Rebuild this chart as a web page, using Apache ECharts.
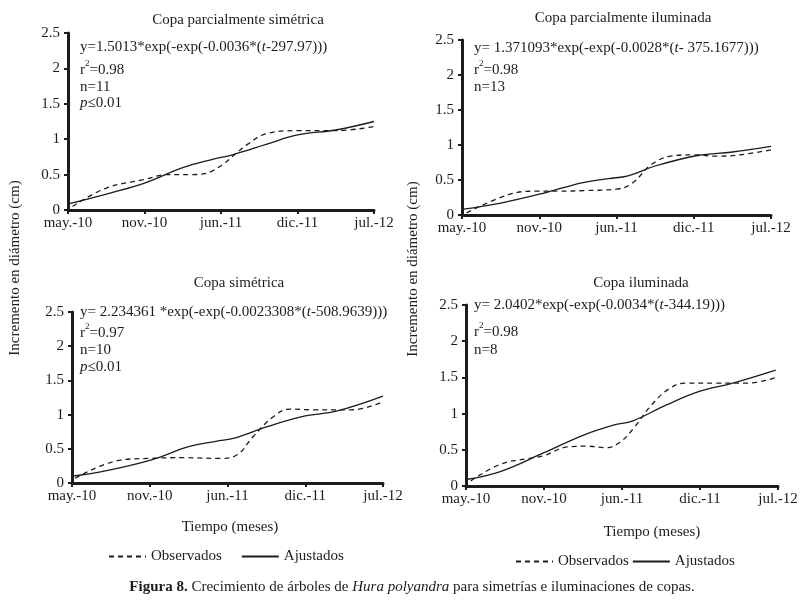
<!DOCTYPE html>
<html>
<head>
<meta charset="utf-8">
<script src="https://cdn.jsdelivr.net/npm/echarts@6/dist/echarts.min.js"></script>
<style>
    html, body {margin: 0; padding: 0; background: #fff;}
    #chart {width: 807px; height: 612px;}
</style>
</head>
<body>
<div id="chart"></div>
<script>
// tick labels of the time axis (evenly spaced in the figure)
let monthLabels = ['may.-10', 'nov.-10', 'jun.-11', 'dic.-11', 'jul.-12'];

// panel titles
let panelTitles = ['Copa parcialmente simétrica', 'Copa parcialmente iluminada', 'Copa simétrica', 'Copa iluminada'];

// observed (dashed) series, x in label units, y in cm
let obsX1 = [0.06, 0.5, 1.0, 1.3, 1.6, 1.9, 2.35, 2.6, 3.0, 3.5, 4.0];
let obsY1 = [0.05, 0.31, 0.43, 0.5, 0.5, 0.56, 0.93, 1.08, 1.12, 1.12, 1.18];
let obsX2 = [0.06, 0.6, 0.95, 1.25, 1.6, 2.0, 2.2, 2.45, 2.7, 3.0, 3.3, 3.6, 4.0];
let obsY2 = [0.03, 0.29, 0.34, 0.34, 0.35, 0.37, 0.45, 0.72, 0.84, 0.86, 0.84, 0.86, 0.93];
let obsX3 = [0.04, 0.6, 1.0, 1.45, 1.9, 2.12, 2.33, 2.59, 2.8, 3.1, 3.6, 4.0];
let obsY3 = [0.07, 0.33, 0.36, 0.37, 0.36, 0.41, 0.68, 0.97, 1.08, 1.07, 1.07, 1.19];
let obsX4 = [0.06, 0.44, 0.8, 1.0, 1.3, 1.55, 1.8, 1.98, 2.15, 2.38, 2.6, 2.8, 3.2, 3.6, 3.98];
let obsY4 = [0.07, 0.3, 0.38, 0.42, 0.54, 0.55, 0.53, 0.61, 0.8, 1.12, 1.34, 1.42, 1.42, 1.42, 1.5];

// fitted (solid) series
let fitX1 = [0, 0.55, 1.0, 1.5, 1.9, 2.15, 2.6, 3.0, 3.5, 4.0];
let fitY1 = [0.085, 0.24, 0.38, 0.6, 0.72, 0.78, 0.93, 1.06, 1.13, 1.25];
let fitX2 = [0, 0.5, 1.05, 1.55, 1.9, 2.15, 2.5, 3.05, 3.5, 4.0];
let fitY2 = [0.08, 0.17, 0.31, 0.46, 0.52, 0.56, 0.7, 0.85, 0.9, 0.98];
let fitX3 = [0, 0.4, 1.0, 1.5, 1.85, 2.1, 2.5, 3.0, 3.4, 4.0];
let fitY3 = [0.1, 0.17, 0.33, 0.53, 0.61, 0.66, 0.82, 0.98, 1.05, 1.27];
let fitX4 = [0, 0.44, 1.0, 1.5, 1.89, 2.14, 2.57, 3.0, 3.42, 3.97];
let fitY4 = [0.09, 0.2, 0.46, 0.7, 0.84, 0.9, 1.12, 1.31, 1.42, 1.6];

// model equations: [before t, after t]
let equations = [
    ['y=1.5013*exp(-exp(-0.0036*(', '-297.97)))'],
    ['y= 1.371093*exp(-exp(-0.0028*(', '- 375.1677)))'],
    ['y= 2.234361 *exp(-exp(-0.0023308*(', '-508.9639)))'],
    ['y= 2.0402*exp(-exp(-0.0034*(', '-344.19)))'],
];
let rSquared = ['0.98', '0.98', '0.97', '0.98'];
let nValues = ['11', '13', '10', '8'];
let showP = [true, false, true, false];

let main = document.getElementById('chart');
let chart = echarts.init(main, null, {renderer: 'canvas'});

let ink = '#1c1c1c';
let serif = 'Liberation Serif';

let zip = (xs, ys) => xs.map((x, i) => [x, ys[i]]);
let observed = [zip(obsX1, obsY1), zip(obsX2, obsY2), zip(obsX3, obsY3), zip(obsX4, obsY4)];
let fitted = [zip(fitX1, fitY1), zip(fitX2, fitY2), zip(fitX3, fitY3), zip(fitX4, fitY4)];

let grids = [
    {left: 68, top: 33, width: 306, height: 177},
    {left: 462, top: 40, width: 309, height: 175},
    {left: 72, top: 312, width: 311, height: 171},
    {left: 466, top: 305, width: 312, height: 181},
];
let titlePos = [[238, 20], [623, 18], [239, 283], [641, 283]];
let textLeft = [80, 474, 80, 474];
let textTops = [[47, 70, 87, 103], [48, 70, 87], [312, 333, 350, 367], [305, 332, 350]];

let richStyles = {
    a: {fontFamily: serif, fontSize: 15, color: ink, lineHeight: 22},
    i: {fontFamily: serif, fontSize: 15, color: ink, fontStyle: 'italic', lineHeight: 22},
    s: {fontFamily: serif, fontSize: 9, color: ink, verticalAlign: 'top', lineHeight: 9},
};

let graphicText = (x, y, text, extra) => ({
    type: 'text',
    x: x,
    y: y,
    silent: true,
    style: Object.assign({
        text: text,
        fontFamily: serif,
        fontSize: 15,
        fill: ink,
        textAlign: 'left',
        textVerticalAlign: 'middle',
    }, extra || {})
});

let elements = [];
grids.forEach((g, i) => {
    elements.push(graphicText(titlePos[i][0], titlePos[i][1], panelTitles[i], {textAlign: 'center'}));
    let tops = textTops[i];
    elements.push(graphicText(textLeft[i], tops[0],
        '{a|' + equations[i][0] + '}{i|t}{a|' + equations[i][1] + '}', {rich: richStyles}));
    elements.push(graphicText(textLeft[i], tops[1],
        '{a|r}{s|2}{a|=' + rSquared[i] + '}', {rich: richStyles}));
    elements.push(graphicText(textLeft[i], tops[2], 'n=' + nValues[i]));
    if (showP[i]) {
        elements.push(graphicText(textLeft[i], tops[3], '{i|p}{a|≤0.01}', {rich: richStyles}));
    }
});

// shared axis names
elements.push(Object.assign(graphicText(15, 268, 'Incremento en diámetro (cm)', {textAlign: 'center'}), {rotation: Math.PI / 2}));
elements.push(Object.assign(graphicText(413, 269, 'Incremento en diámetro (cm)', {textAlign: 'center'}), {rotation: Math.PI / 2}));
elements.push(graphicText(230, 527, 'Tiempo (meses)', {textAlign: 'center'}));
elements.push(graphicText(652, 532, 'Tiempo (meses)', {textAlign: 'center'}));

// figure caption
elements.push(graphicText(412, 587,
    '{b|Figura 8.}{n| Crecimiento de árboles de }{i|Hura polyandra}{n| para simetrías e iluminaciones de copas.}', {
        textAlign: 'center',
        rich: {
            b: {fontFamily: serif, fontSize: 15, color: ink, fontWeight: 'bold'},
            n: {fontFamily: serif, fontSize: 15, color: ink},
            i: {fontFamily: serif, fontSize: 15, color: ink, fontStyle: 'italic'},
        }
    }));

let legendFor = (left, top, gap) => ({
    left: left,
    top: top,
    itemWidth: 37,
    itemHeight: 12,
    itemGap: gap,
    selectedMode: false,
    data: ['Observados', 'Ajustados'],
    itemStyle: {opacity: 0, borderWidth: 0},
    textStyle: {fontFamily: serif, fontSize: 15, color: ink},
});

let setOption = () => {
    return {
        animation: false,
        backgroundColor: '#fff',
        grid: grids,
        xAxis: grids.map((g, i) => ({
            gridIndex: i,
            type: 'value',
            min: 0,
            max: 4,
            interval: 1,
            axisLine: {show: true, onZero: false, lineStyle: {color: ink, width: 3}},
            axisTick: {show: true, length: 4, lineStyle: {color: ink, width: 2}},
            axisLabel: {
                formatter: (v) => monthLabels[v],
                margin: 6,
                color: ink,
                fontFamily: serif,
                fontSize: 15,
            },
            splitLine: {show: false},
        })),
        yAxis: grids.map((g, i) => ({
            gridIndex: i,
            type: 'value',
            min: 0,
            max: 2.5,
            interval: 0.5,
            axisLine: {show: true, lineStyle: {color: ink, width: 3}},
            axisTick: {show: true, length: 4, lineStyle: {color: ink, width: 2}},
            axisLabel: {
                margin: 8,
                color: ink,
                fontFamily: serif,
                fontSize: 15,
            },
            splitLine: {show: false},
        })),
        legend: [legendFor(103, 544, 19), legendFor(510, 549, 3)],
        series: [
            ...observed.map((d, i) => ({
                type: 'line',
                name: 'Observados',
                xAxisIndex: i,
                yAxisIndex: i,
                data: d,
                smooth: 0.4,
                symbol: 'none',
                color: ink,
                lineStyle: {color: ink, width: 1.3, type: [5, 4]},
            })),
            ...fitted.map((d, i) => ({
                type: 'line',
                name: 'Ajustados',
                xAxisIndex: i,
                yAxisIndex: i,
                data: d,
                smooth: 0.4,
                symbol: 'none',
                color: ink,
                lineStyle: {color: ink, width: 1.3, type: 'solid'},
            })),
        ],
        graphic: {elements: elements},
    };
}

chart.setOption(setOption());
</script>
</body>
</html>
